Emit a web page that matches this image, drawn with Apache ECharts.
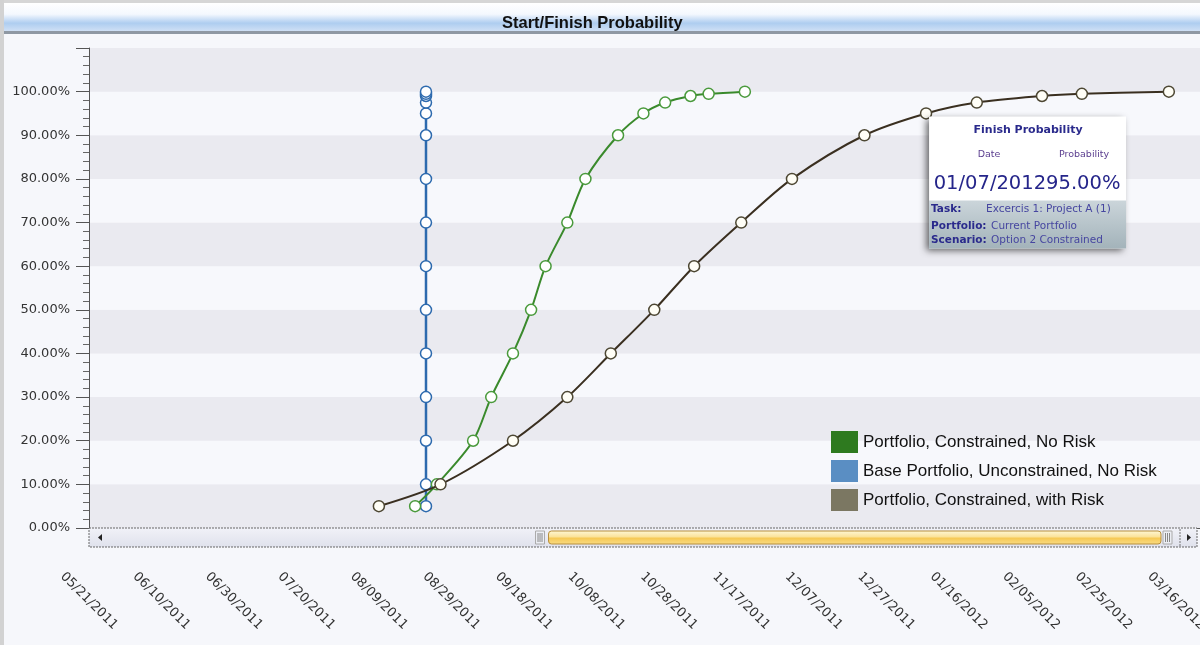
<!DOCTYPE html>
<html>
<head>
<meta charset="utf-8">
<script src="https://cdn.jsdelivr.net/npm/echarts@6/dist/echarts.min.js"></script>
<style>
html,body{margin:0;padding:0;background:#f6f7fb;}
#c{width:1200px;height:645px;}
</style>
</head>
<body>
<div id="c"></div>
<script>
// ---------- data ----------
const chartTitle = 'Start/Finish Probability';
const axisStartDate = '05/21/2011';
const xTickDays = 20;
const xEndDay = 306.6;
const yMax = 110;
const yTickStep = 10;

const seriesNames = [
  'Portfolio, Constrained, No Risk',
  'Base Portfolio, Unconstrained, No Risk',
  'Portfolio, Constrained, with Risk'
];

const constrainedNoRiskDates = ['08/19/2011','08/25/2011','09/04/2011','09/09/2011','09/15/2011','09/20/2011','09/24/2011','09/30/2011','10/05/2011','10/14/2011','10/21/2011','10/27/2011','11/03/2011','11/08/2011','11/18/2011'];
const constrainedNoRiskProb  = [5,10,20,30,40,50,60,70,80,90,95,97.5,99,99.5,100];

const baseUnconstrainedDates = ['08/22/2011','08/22/2011','08/22/2011','08/22/2011','08/22/2011','08/22/2011','08/22/2011','08/22/2011','08/22/2011','08/22/2011','08/22/2011','08/22/2011','08/22/2011','08/22/2011','08/22/2011'];
const baseUnconstrainedProb  = [5,10,20,30,40,50,60,70,80,90,95,97.5,99,99.5,100];

const constrainedRiskDates = ['08/09/2011','08/26/2011','09/15/2011','09/30/2011','10/12/2011','10/24/2011','11/04/2011','11/17/2011','12/01/2011','12/21/2011','01/07/2012','01/21/2012','02/08/2012','02/19/2012','03/14/2012'];
const constrainedRiskProb  = [5,10,20,30,40,50,60,70,80,90,95,97.5,99,99.5,100];

const callout = {
  title: 'Finish Probability',
  dateHead: 'Date',
  probHead: 'Probability',
  date: '01/07/2012',
  prob: 95,
  task: 'Excercis 1: Project A (1)',
  portfolio: 'Current Portfolio',
  scenario: 'Option 2 Constrained'
};

// ---------- helpers ----------
function parseMDY(s){ const p = s.split('/').map(Number); return Date.UTC(p[2], p[0]-1, p[1]); }
const DAY = 86400000;
const origin = parseMDY(axisStartDate);
function toDay(s){ return Math.round((parseMDY(s) - origin) / DAY); }
function pad(n){ return (n<10?'0':'') + n; }
function fmtDay(v){
  const d = new Date(origin + v*DAY);
  return pad(d.getUTCMonth()+1) + '/' + pad(d.getUTCDate()) + '/' + d.getUTCFullYear();
}
function pairs(dates, probs){ return dates.map((d,i)=>[toDay(d), probs[i]]); }

const FONT = 'DejaVu Sans';

const chart = echarts.init(document.getElementById('c'));

const option = {
  backgroundColor: '#f6f7fb',
  animation: false,
  title: {
    text: chartTitle,
    left: 497, top: 10,
    textStyle: { fontFamily: 'Liberation Sans', fontWeight: 'bold', fontSize: 16.5, color: '#111' }
  },
  grid: { left: 89, top: 48, bottom: 117, right: 0, containLabel: false, outerBoundsMode: 'none' },
  legend: {
    orient: 'vertical',
    left: 831, top: 431,
    itemWidth: 27, itemHeight: 22, itemGap: 7,
    padding: 0,
    icon: 'rect',
    textStyle: { fontFamily: 'Liberation Sans', fontSize: 17, color: '#111' },
    data: [
      { name: seriesNames[0], itemStyle: { color: '#2e7a1f', borderWidth: 0 } },
      { name: seriesNames[1], itemStyle: { color: '#5a8ec3', borderWidth: 0 } },
      { name: seriesNames[2], itemStyle: { color: '#7b7762', borderWidth: 0 } }
    ]
  },
  xAxis: {
    type: 'value',
    min: 0, max: xEndDay, interval: xTickDays,
    offset: 19,
    axisLine: { show: true, lineStyle: { color: '#555', width: 1 } },
    axisTick: { show: true, length: 11, lineStyle: { color: '#555' } },
    splitLine: { show: false },
    axisLabel: {
      rotate: -45, align: 'center', verticalAlign: 'middle', margin: 54,
      fontFamily: FONT, fontSize: 13, color: '#333',
      showMaxLabel: false,
      formatter: v => (Math.abs(v % xTickDays) < 1e-6 ? fmtDay(v) : '')
    }
  },
  yAxis: {
    type: 'value',
    min: 0, max: yMax, interval: yTickStep,
    axisLine: { show: true, lineStyle: { color: '#555', width: 1 } },
    axisTick: { show: true, length: 13, lineStyle: { color: '#555' } },
    minorTick: { show: true, splitNumber: 5, length: 6, lineStyle: { color: '#666' } },
    splitLine: { show: false },
    splitArea: { show: true, areaStyle: { color: ['#eaeaf0', '#f7f8fc'] } },
    axisLabel: {
      margin: 19, fontFamily: FONT, fontSize: 13, color: '#333',
      formatter: v => (v > 100 ? '' : v.toFixed(2) + '%')
    }
  },
  series: [
    {
      name: seriesNames[0], type: 'line', z: 3,
      data: pairs(constrainedNoRiskDates, constrainedNoRiskProb),
      smooth: 0.3,
      color: '#2e7a1f',
      lineStyle: { color: '#3a8a2c', width: 2 },
      symbol: 'circle', symbolSize: 11,
      itemStyle: { color: '#ffffff', borderColor: '#4a9a3c', borderWidth: 1.5 }
    },
    {
      name: seriesNames[1], type: 'line', z: 2,
      data: pairs(baseUnconstrainedDates, baseUnconstrainedProb),
      color: '#5a8ec3',
      lineStyle: { color: '#2d6aae', width: 2.5 },
      symbol: 'circle', symbolSize: 11,
      itemStyle: { color: '#ffffff', borderColor: '#2d6aae', borderWidth: 1.5 }
    },
    {
      name: seriesNames[2], type: 'line', z: 4,
      data: pairs(constrainedRiskDates, constrainedRiskProb),
      smooth: 0.3,
      color: '#7b7762',
      lineStyle: { color: '#3a2f20', width: 2 },
      symbol: 'circle', symbolSize: 11,
      itemStyle: { color: '#fffef6', borderColor: '#4d4733', borderWidth: 1.5 }
    }
  ]
};
chart.setOption(option);

// ---------- decorations (frame, scrollbar, callout) ----------
const p0 = chart.convertToPixel({ gridIndex: 0 }, [0, 0]);
const L = p0[0], B = p0[1];
const R = 1197;
const pc = chart.convertToPixel({ gridIndex: 0 }, [toDay(callout.date), callout.prob]);
const bx = pc[0] + 3, by = pc[1] + 3, bw = 197, bh = 132;

const navy = '#2a2a8c';
const g = [];
// frame
g.push({ type: 'rect', z: -10, shape: { x: 0, y: 0, width: 1200, height: 3 }, style: { fill: '#d6d6d6' } });
g.push({ type: 'rect', z: -10, shape: { x: 0, y: 0, width: 4, height: 645 }, style: { fill: '#d2d2d2' } });
g.push({ type: 'rect', z: -10, shape: { x: 4, y: 3, width: 1196, height: 28 },
  style: { fill: new echarts.graphic.LinearGradient(0, 0, 0, 1, [
    { offset: 0, color: '#ffffff' }, { offset: 0.4, color: '#f4f8fe' },
    { offset: 0.72, color: '#aecdf0' }, { offset: 1, color: '#cfe0f5' }]) } });
g.push({ type: 'rect', z: -10, shape: { x: 4, y: 31, width: 1196, height: 3 }, style: { fill: '#8f98a3' } });

// scrollbar
g.push({ type: 'rect', z: 10, shape: { x: L, y: B, width: R - L, height: 19 },
  style: { fill: new echarts.graphic.LinearGradient(0, 0, 0, 1, [
    { offset: 0, color: '#f1f2f8' }, { offset: 1, color: '#dfe1ec' }]),
    stroke: '#666', lineWidth: 1, lineDash: [2, 1] } });
g.push({ type: 'polygon', z: 11, shape: { points: [[L + 9, B + 9.5], [L + 13, B + 6], [L + 13, B + 13]] }, style: { fill: '#222' } });
const tL = L + (R - L) * 0.403;
const tR = R - 23;
g.push({ type: 'rect', z: 11, shape: { x: tL, y: B + 3, width: 9, height: 13 }, style: { fill: '#eceef4', stroke: '#aaa', lineWidth: 1 } });
for (let i = 0; i < 3; i++) g.push({ type: 'line', z: 12, shape: { x1: tL + 2.5 + i*2, y1: B + 5, x2: tL + 2.5 + i*2, y2: B + 14 }, style: { stroke: '#888', lineWidth: 1 } });
g.push({ type: 'rect', z: 11, shape: { x: tL + 13, y: B + 3, width: tR - tL - 26, height: 13, r: 3 },
  style: { fill: new echarts.graphic.LinearGradient(0, 0, 0, 1, [
    { offset: 0, color: '#fff8d8' }, { offset: 0.45, color: '#fbe39a' },
    { offset: 0.55, color: '#f6c955' }, { offset: 1, color: '#f9dc85' }]),
    stroke: '#b88f3c', lineWidth: 1 } });
g.push({ type: 'rect', z: 11, shape: { x: tR - 11, y: B + 3, width: 9, height: 13 }, style: { fill: '#eceef4', stroke: '#aaa', lineWidth: 1 } });
for (let i = 0; i < 3; i++) g.push({ type: 'line', z: 12, shape: { x1: tR - 8.5 + i*2, y1: B + 5, x2: tR - 8.5 + i*2, y2: B + 14 }, style: { stroke: '#888', lineWidth: 1 } });
g.push({ type: 'line', z: 11, shape: { x1: R - 17, y1: B + 1, x2: R - 17, y2: B + 18 }, style: { stroke: '#777', lineWidth: 1, lineDash: [2, 1] } });
g.push({ type: 'polygon', z: 11, shape: { points: [[R - 6, B + 9.5], [R - 10, B + 6], [R - 10, B + 13]] }, style: { fill: '#222' } });

// callout box
g.push({ type: 'rect', z: 20, shape: { x: bx, y: by, width: bw, height: bh },
  style: { fill: '#ffffff', shadowBlur: 7, shadowOffsetX: -3, shadowOffsetY: 3, shadowColor: 'rgba(0,0,0,0.6)' } });
g.push({ type: 'rect', z: 21, shape: { x: bx, y: by + 84, width: bw, height: bh - 84 },
  style: { fill: new echarts.graphic.LinearGradient(0, 0, 0, 1, [
    { offset: 0, color: '#cbd5da' }, { offset: 1, color: '#a3b3ba' }]) } });
function txt(x, y, text, size, opts){
  return Object.assign({ type: 'text', z: 22, x: x, y: y,
    style: Object.assign({ text: text, fontFamily: FONT, fontSize: size, fill: navy, textVerticalAlign: 'middle', textAlign: 'left' }, opts || {}) });
}
g.push(txt(bx + 99, by + 14, callout.title, 11, { fontWeight: 'bold', textAlign: 'center' }));
g.push(txt(bx + 60, by + 38, callout.dateHead, 9.5, { textAlign: 'center', fill: '#5b3e8f' }));
g.push(txt(bx + 155, by + 38, callout.probHead, 9.5, { textAlign: 'center', fill: '#5b3e8f' }));
g.push(txt(bx + 98, by + 67, callout.date + callout.prob.toFixed(2) + '%', 19.5, { textAlign: 'center', fill: '#25258a' }));
g.push(txt(bx + 2, by + 93, 'Task:', 10.5, { fontWeight: 'bold' }));
g.push(txt(bx + 57, by + 93, callout.task, 10.5, { fill: '#4646a0' }));
g.push(txt(bx + 2, by + 110, 'Portfolio:', 10.5, { fontWeight: 'bold' }));
g.push(txt(bx + 62, by + 110, callout.portfolio, 10.5, { fill: '#4646a0' }));
g.push(txt(bx + 2, by + 124, 'Scenario:', 10.5, { fontWeight: 'bold' }));
g.push(txt(bx + 62, by + 124, callout.scenario, 10.5, { fill: '#4646a0' }));

chart.setOption({ graphic: g });
</script>
</body>
</html>
